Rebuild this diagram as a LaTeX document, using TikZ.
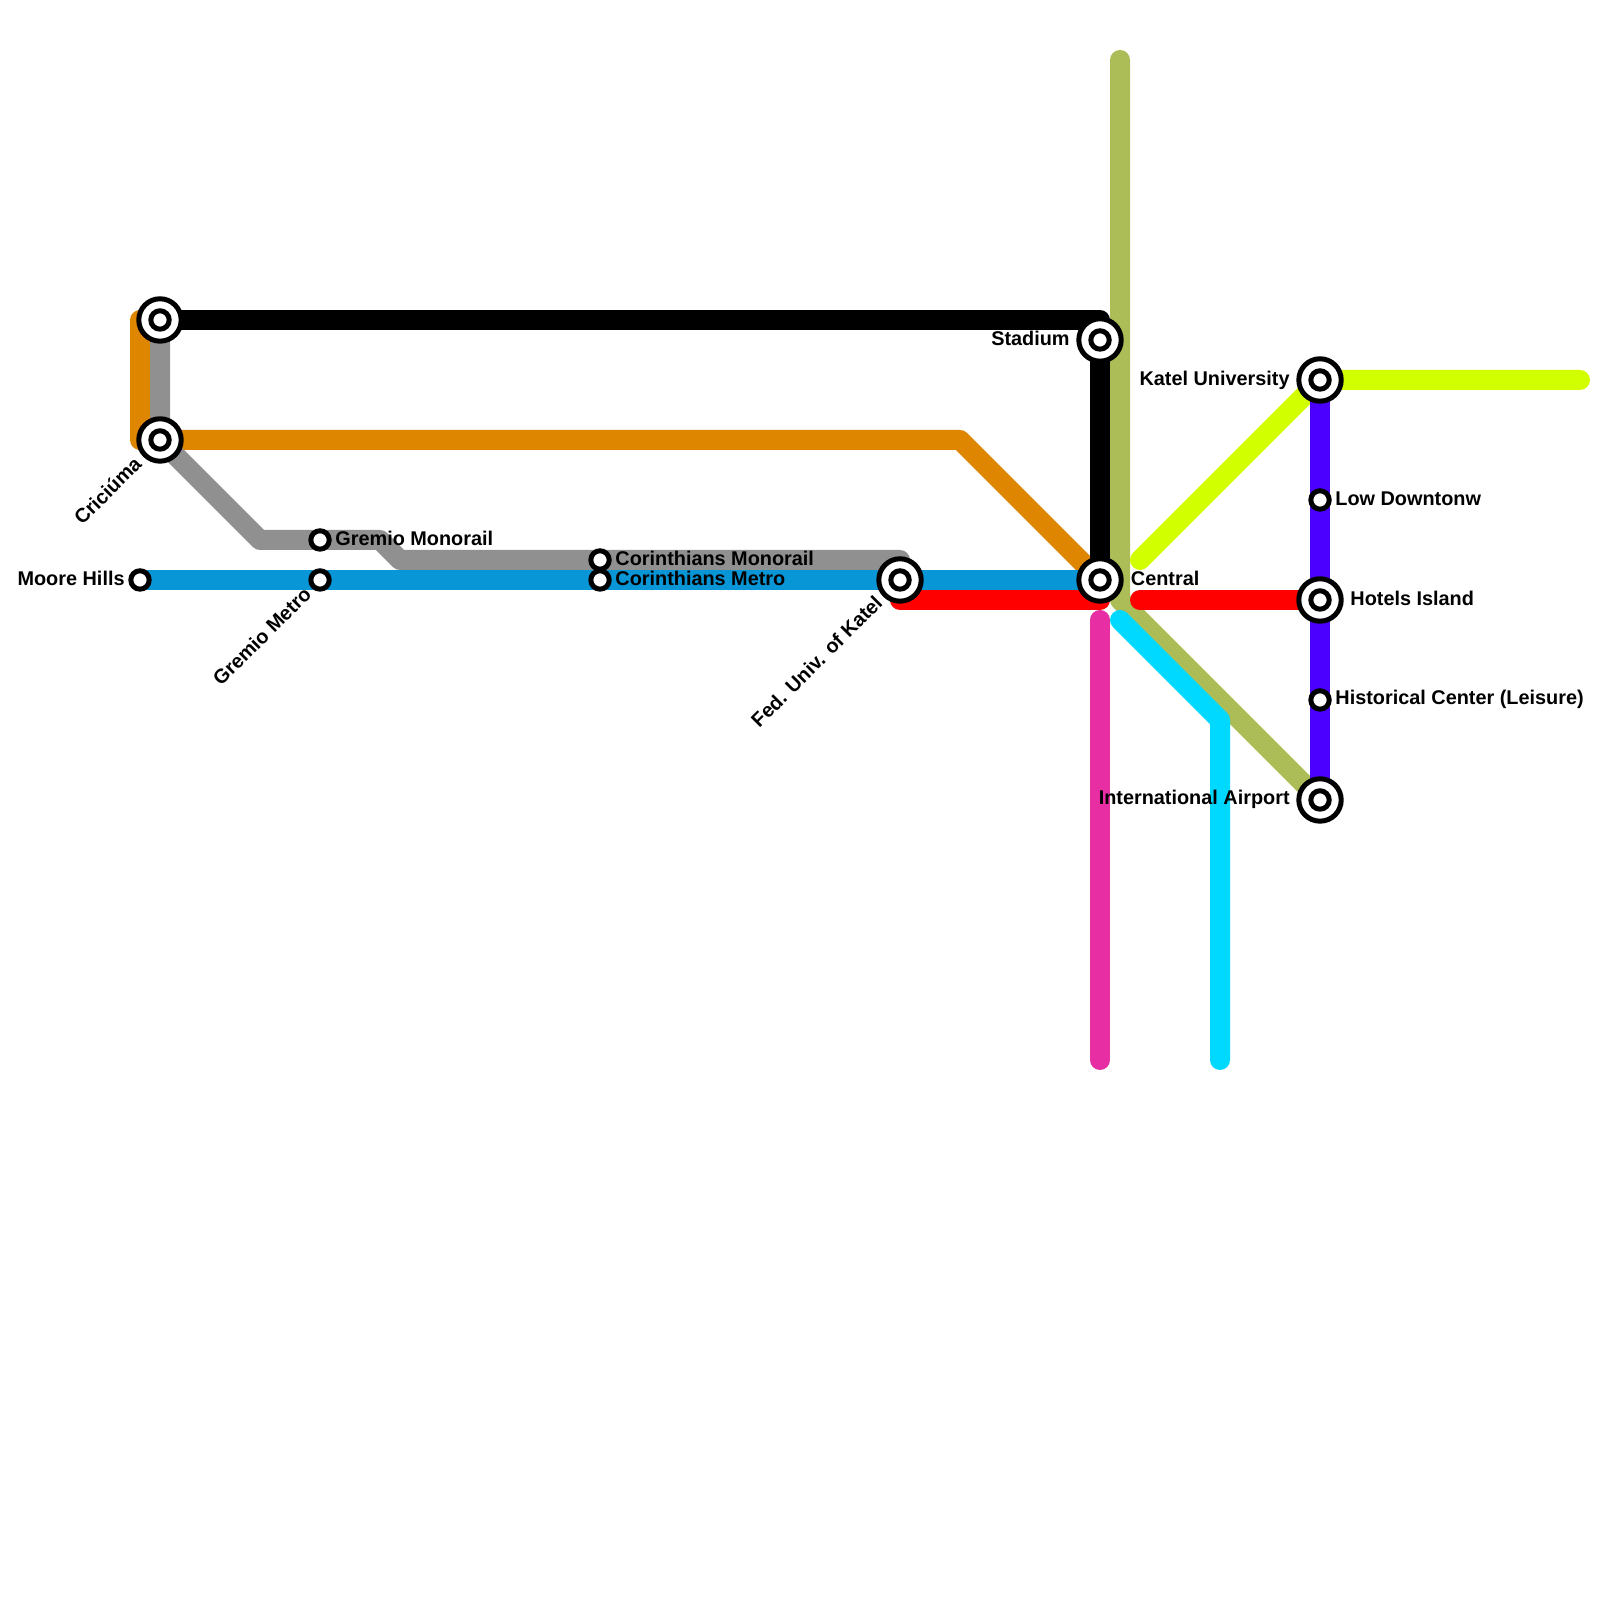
\documentclass[tikz,border=0pt]{standalone}
\usepackage{fontspec}
\setmainfont{Liberation Sans}
\usetikzlibrary{positioning,backgrounds}
\definecolor{lineorange}{HTML}{DF8600}
\definecolor{linegray}{HTML}{909090}
\definecolor{lineblue}{HTML}{0896D7}
\definecolor{lineolive}{HTML}{ACBD58}
\definecolor{linelime}{HTML}{D2FF00}
\definecolor{linepurple}{HTML}{4B00FF}
\definecolor{linepink}{HTML}{E72EA3}
\definecolor{linecyan}{HTML}{00D9FF}
\begin{document}
\begin{tikzpicture}[
  stop/.style={circle, draw=black, fill=white, line width=0.05cm, minimum size=0.184cm, inner sep=0pt},
  hub/.style={circle, draw=black, fill=white, line width=0.05cm, minimum size=0.424cm, inner sep=0pt},
  lab/.style={font=\fontsize{5.65}{6}\selectfont\bfseries, text=black, inner sep=0pt},
  route/.style={line width=0.2cm, line cap=round, line join=round}
]
\useasboundingbox (0,0) rectangle (16,16);
\node[hub] (upper) at (1.6,12.8) {};
\node[hub] (criciuma) at (1.6,11.6) {};
\node[hub] (fedkatel) at (9,10.2) {};
\node[hub] (stadium) at (11,12.6) {};
\node[hub] (central) at (11,10.2) {};
\node[hub] (kateluni) at (13.2,12.2) {};
\node[hub] (hotels) at (13.2,10) {};
\node[hub] (airport) at (13.2,8) {};
\node[stop] (upper in) at (upper) {};
\node[stop] (criciuma in) at (criciuma) {};
\node[stop] (fedkatel in) at (fedkatel) {};
\node[stop] (stadium in) at (stadium) {};
\node[stop] (central in) at (central) {};
\node[stop] (kateluni in) at (kateluni) {};
\node[stop] (hotels in) at (hotels) {};
\node[stop] (airport in) at (airport) {};
\node[stop] (moore) at (1.4,10.2) {};
\node[stop] (gremiomono) at (3.2,10.6) {};
\node[stop] (gremiometro) at (3.2,10.2) {};
\node[stop] (corinmono) at (6,10.4) {};
\node[stop] (corinmetro) at (6,10.2) {};
\node[stop] (lowtown) at (13.2,11) {};
\node[stop] (historic) at (13.2,9) {};
\coordinate (orange a) at (1.4,12.8);
\coordinate (orange b) at (1.4,11.6);
\coordinate (orange c) at (9.6,11.6);
\coordinate (gray a) at (2.6,10.6);
\coordinate (gray b) at (3.8,10.6);
\coordinate (gray c) at (4,10.4);
\coordinate (gray d) at (9,10.4);
\coordinate (black a) at (11,12.8);
\coordinate (red a) at (9,10);
\coordinate (red b) at (11,10);
\coordinate (red c) at (11.4,10);
\coordinate (olive a) at (11.2,15.4);
\coordinate (olive b) at (11.2,10);
\coordinate (lime a) at (11.4,10.4);
\coordinate (lime b) at (15.8,12.2);
\coordinate (pink a) at (11,9.8);
\coordinate (pink b) at (11,5.4);
\coordinate (cyan a) at (11.2,9.8);
\coordinate (cyan b) at (12.2,8.8);
\coordinate (cyan c) at (12.2,5.4);
\begin{scope}[on background layer]
\draw[route, lineorange] (upper.center) -- (orange a) -- (orange b) -- (orange c) -- (central.center);
\draw[route, linegray] (upper.center) -- (criciuma.center) -- (gray a) -- (gray b) -- (gray c) -- (gray d) -- (fedkatel.center);
\draw[route, black] (upper.center) -- (black a) -- (central.center);
\draw[route, lineolive] (olive a) -- (olive b) -- (airport.center);
\draw[route, lineblue] (moore.center) -- (central.center);
\draw[route, red] (fedkatel.center) -- (red a) -- (red b) -- (central.center);
\draw[route, red] (red c) -- (hotels.center);
\draw[route, linelime] (lime a) -- (kateluni.center) -- (lime b);
\draw[route, linepurple] (kateluni.center) -- (airport.center);
\draw[route, linepink] (pink a) -- (pink b);
\draw[route, linecyan] (cyan a) -- (cyan b) -- (cyan c);
\end{scope}
\node[lab, left=0.03cm of moore, yshift=0.02cm] (moore lab) {Moore Hills};
\node[lab, right=0.03cm of gremiomono, yshift=0.015cm] (gremiomono lab) {Gremio Monorail};
\node[lab, right=0.03cm of corinmono, yshift=0.015cm] (corinmono lab) {Corinthians Monorail};
\node[lab, right=0.03cm of corinmetro, yshift=0.015cm] (corinmetro lab) {Corinthians Metro};
\node[lab, right=0.03cm of lowtown, yshift=0.015cm] (lowtown lab) {Low Downtonw};
\node[lab, right=0.03cm of historic, yshift=0.005cm] (historic lab) {Historical Center (Leisure)};
\node[lab, right=0.065cm of central, yshift=0.02cm] (central lab) {Central};
\node[lab, right=0.06cm of hotels, yshift=0.015cm] (hotels lab) {Hotels Island};
\node[lab, left=0.06cm of stadium, yshift=0.02cm] (stadium lab) {Stadium};
\node[lab, left=0.06cm of kateluni, yshift=0cm] (kateluni lab) {Katel University};
\node[lab, left=0.06cm of airport, yshift=0.005cm] (airport lab) {International Airport};
\node[lab, rotate=45, anchor=east] (criciuma lab) at ([shift={(-0.22,-0.2)}]criciuma.center) {Criciúma};
\node[lab, rotate=45, anchor=east] (gremiometro lab) at ([shift={(-0.12,-0.1)}]gremiometro.center) {Gremio Metro};
\node[lab, rotate=45, anchor=east] (fedkatel lab) at ([shift={(-0.21,-0.19)}]fedkatel.center) {Fed. Univ. of Katel};
\end{tikzpicture}
\end{document}
